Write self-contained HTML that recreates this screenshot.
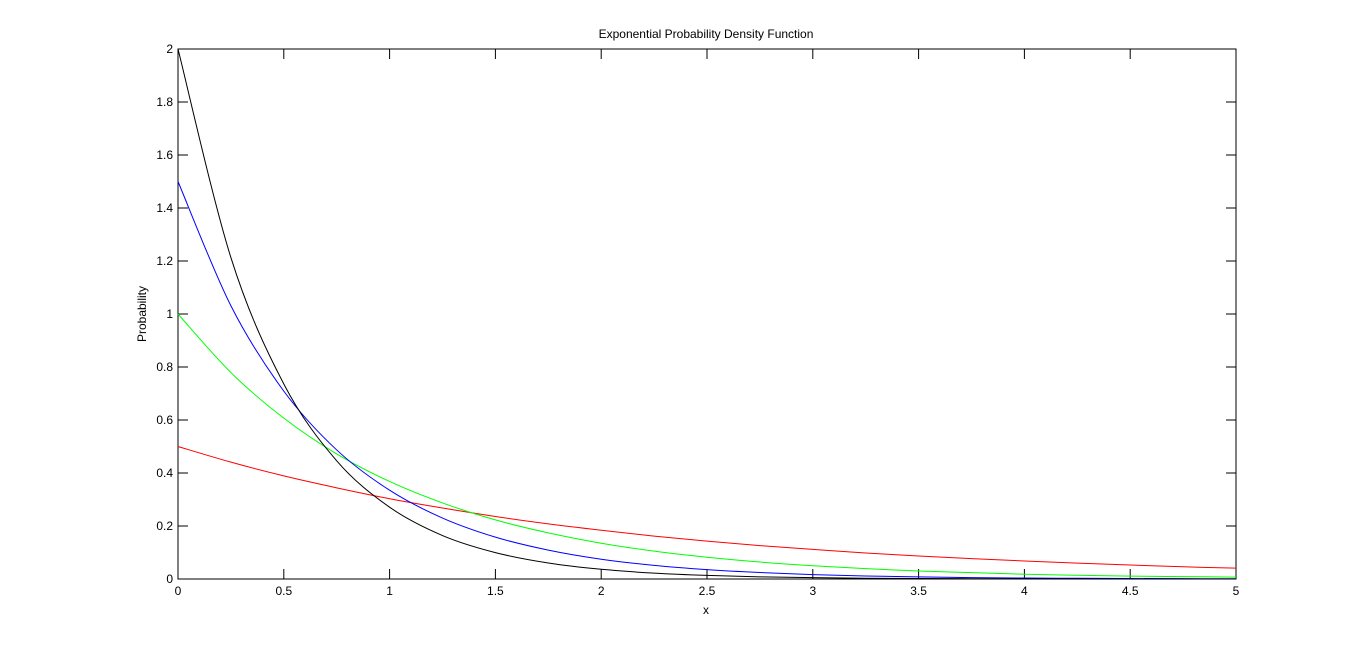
<!DOCTYPE html>
<html><head><meta charset="utf-8"><style>
html,body{margin:0;padding:0;background:#fff;width:1366px;height:652px;overflow:hidden}
svg text{font-family:"Liberation Sans",sans-serif;font-size:12px;fill:#000}
</style></head><body>
<svg id="chart" width="1366" height="652">
<text x="706" y="38" text-anchor="middle">Exponential Probability Density Function</text>
<text x="706" y="614" text-anchor="middle">x</text>
<text transform="translate(146,314) rotate(-90)" text-anchor="middle">Probability</text>
<g id="axes"></g>
<g id="series"></g>
</svg>
<script>
const xs = [0,0.25,0.5,0.75,1,1.25,1.5,1.75,2,2.25,2.5,2.75,3,3.25,3.5,3.75,4,4.25,4.5,4.75,5];
const seriesBlack = [2,1.213,0.736,0.446,0.271,0.164,0.0996,0.0604,0.0366,0.0222,0.0135,0.0082,0.005,0.003,0.0018,0.0011,0.0007,0.0004,0.0002,0.0001,0.0001];
const seriesBlue = [1.5,1.031,0.709,0.487,0.335,0.23,0.158,0.109,0.0747,0.0514,0.0353,0.0243,0.0167,0.0115,0.0079,0.0054,0.0037,0.0026,0.0018,0.0012,0.0008];
const seriesGreen = [1,0.779,0.607,0.472,0.368,0.287,0.223,0.174,0.135,0.105,0.082,0.064,0.05,0.039,0.03,0.024,0.018,0.014,0.011,0.009,0.007];
const seriesRed = [0.5,0.441,0.389,0.344,0.303,0.268,0.236,0.208,0.184,0.162,0.143,0.126,0.112,0.098,0.087,0.077,0.068,0.06,0.053,0.046,0.041];
const xTicks = ["0","0.5","1","1.5","2","2.5","3","3.5","4","4.5","5"];
const yTicks = ["0","0.2","0.4","0.6","0.8","1","1.2","1.4","1.6","1.8","2"];

const L=178,R=1236,T=49,B=579;
const sx=v=>L+(v/5)*(R-L);
const sy=v=>B-(v/2)*(B-T);
const NS="http://www.w3.org/2000/svg";
const axes=document.getElementById('axes');
function mk(tag,attrs,parent){const e=document.createElementNS(NS,tag);for(const k in attrs)e.setAttribute(k,attrs[k]);parent.appendChild(e);return e;}
const box=mk('rect',{x:L,y:T,width:R-L,height:B-T,fill:'none',stroke:'#000','stroke-width':1},axes);


xTicks.forEach(t=>{const x=sx(parseFloat(t));
 const l1=mk('line',{x1:x,x2:x,y1:B,y2:B-10,stroke:'#000'},axes);
 
 
 const l2=mk('line',{x1:x,x2:x,y1:T,y2:T+10,stroke:'#000'},axes);
 
 
 const tx=mk('text',{x:x,y:B+16,'text-anchor':'middle'},axes);tx.textContent=t;
 
 
});
yTicks.forEach(t=>{const y=sy(parseFloat(t));
 const l1=mk('line',{x1:L,x2:L+10,y1:y,y2:y,stroke:'#000'},axes);
 
 
 const l2=mk('line',{x1:R,x2:R-10,y1:y,y2:y,stroke:'#000'},axes);
 
 
 const tx=mk('text',{x:L-5,y:y+4,'text-anchor':'end'},axes);tx.textContent=t;
 
 
});
function pathFor(vals){
 const p=xs.map((x,i)=>[sx(x),sy(vals[i])]);
 let d='M'+p[0][0]+','+p[0][1];
 for(let i=0;i<p.length-1;i++){
  const p0=p[Math.max(0,i-1)],p1=p[i],p2=p[i+1],p3=p[Math.min(p.length-1,i+2)];
  const c1=[p1[0]+(p2[0]-p0[0])/6,p1[1]+(p2[1]-p0[1])/6];
  const c2=[p2[0]-(p3[0]-p1[0])/6,p2[1]-(p3[1]-p1[1])/6];
  d+=' C'+c1[0]+','+c1[1]+' '+c2[0]+','+c2[1]+' '+p2[0]+','+p2[1];
 }
 return d;
}
const g=document.getElementById('series');
[[seriesRed,'#ff0000','series-red-lambda-0.5'],[seriesGreen,'#00ff00','series-green-lambda-1'],[seriesBlue,'#0000ff','series-blue-lambda-1.5'],[seriesBlack,'#000000','series-black-lambda-2']].forEach(s=>{
 const e=mk('path',{d:pathFor(s[0]),fill:'none',stroke:s[1],'stroke-width':1},g);
 
 
});
</script>
</body></html>
